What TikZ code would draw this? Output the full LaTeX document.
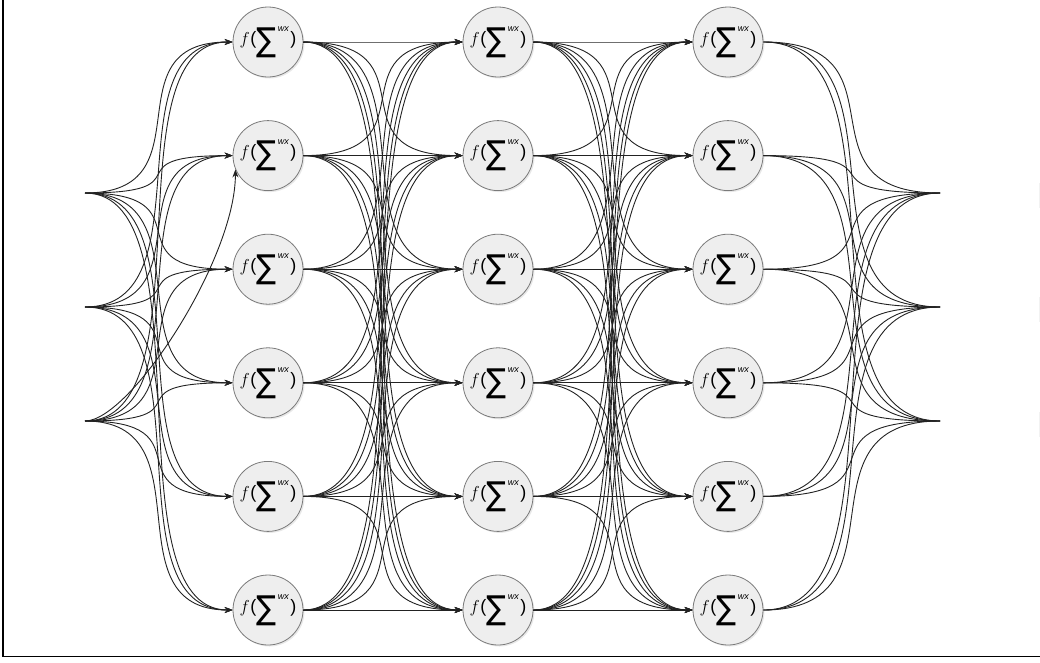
\documentclass[tikz,border=0pt]{standalone}
\usepackage{fontspec}
\setmainfont{Liberation Sans}
\newfontfamily\dejavu{DejaVu Sans}
\usepackage{graphicx}
\usetikzlibrary{arrows.meta,shadows}
\definecolor{nodefill}{HTML}{EEEEEE}
\definecolor{nodeline}{HTML}{7A7A7A}
\definecolor{wire}{HTML}{222222}
\newcommand{\neurtext}{\fontsize{18}{18}\selectfont$f$\hspace{0.5pt}(\raisebox{-7pt}{\resizebox*{20pt}{30pt}{\dejavu ∑}}\hspace{1.5pt}\raisebox{13pt}{\fontsize{9}{9}\selectfont\itshape wx}\hspace{1.5pt})}
\tikzset{
  neuron/.style={circle, minimum size=70pt, inner sep=0pt, fill=nodefill, draw=nodeline, line width=0.8pt,
    drop shadow={opacity=0.18, shadow xshift=1.5pt, shadow yshift=-1.5pt}},
  conn/.style={draw=wire, line width=0.9pt},
  arr/.style={-{Stealth[length=8pt,width=6pt]}},
  frame/.style={draw=black, line width=1.5pt},
  faint/.style={draw=black!5, line width=1pt}
}
\begin{document}
\begin{tikzpicture}[x=1pt,y=-1pt]
\useasboundingbox (0,0) rectangle (1040,662);
\draw[frame] (3,0) -- (3,656.5) -- (1040,656.5);
% input / output points
\coordinate (i1) at (85,193);
\coordinate (i2) at (85,307);
\coordinate (i3) at (85,421);
\coordinate (o1) at (940,193);
\coordinate (o2) at (940,307);
\coordinate (o3) at (940,421);
% neurons
\foreach \c/\x in {1/268,2/498,3/728}{
  \foreach \r/\y in {1/42,2/155.6,3/269.2,4/382.8,5/496.4,6/610}{
    \node[neuron] (n\c\r) at (\x,\y) {\neurtext};
  }
}
% input -> layer 1
\foreach \i in {1,2,3}{
  \foreach \r in {1,...,6}{
    \draw[conn,arr] (i\i) .. controls +(125,0) and +(-125,0) .. (n1\r.west);
  }
}
% odd connector
\draw[conn,arr] (i3) .. controls +(45,0) and +(0,90) .. (n12.203);
% layer 1 -> layer 2, layer 2 -> layer 3
\foreach \a in {1,...,6}{
  \foreach \b in {1,...,6}{
    \draw[conn,arr] (n1\a.east) .. controls +(135,0) and +(-135,0) .. (n2\b.west);
    \draw[conn,arr] (n2\a.east) .. controls +(135,0) and +(-135,0) .. (n3\b.west);
  }
}
% layer 3 -> outputs
\foreach \r in {1,...,6}{
  \foreach \o in {1,2,3}{
    \draw[conn] (n3\r.east) .. controls +(150,0) and +(-150,0) .. (o\o);
  }
}
% faint marks at right edge
\coordinate (m1a) at (1039,183); \coordinate (m1b) at (1039,208);
\coordinate (m2a) at (1039,297); \coordinate (m2b) at (1039,322);
\coordinate (m3a) at (1039,412); \coordinate (m3b) at (1039,437);
\draw[faint] (m1a) -- (m1b);
\draw[faint] (m2a) -- (m2b);
\draw[faint] (m3a) -- (m3b);
\end{tikzpicture}
\end{document}
